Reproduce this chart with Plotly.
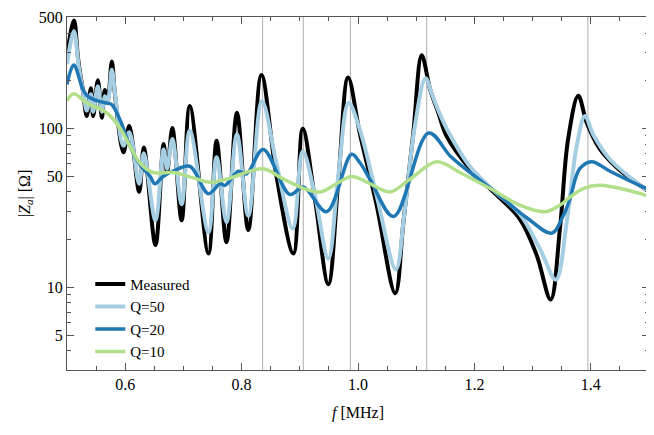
import numpy as np
import plotly.graph_objects as go

# ---- data ----
meas_f = [0.500, 0.512, 0.519, 0.5275, 0.534, 0.541, 0.545, 0.553, 0.560, 0.565, 0.570, 0.577, 0.5825,
          0.597, 0.607, 0.624, 0.632, 0.652, 0.666, 0.672, 0.681, 0.697, 0.711, 0.743, 0.757, 0.774,
          0.792, 0.8115, 0.834, 0.860, 0.889, 0.905, 0.926, 0.949, 0.966, 0.983, 1.003, 1.032, 1.064,
          1.078, 1.095, 1.1095, 1.124, 1.138, 1.152, 1.192, 1.2325, 1.278, 1.307, 1.331, 1.347, 1.361,
          1.3785, 1.393, 1.416, 1.4445, 1.496, 1.5]
meas_z = [290, 480, 277, 172, 120, 180, 120, 202, 117, 175, 150, 265, 163,
          71, 104, 40, 76, 18.5, 80, 53, 101, 26.5, 139, 16.4, 84, 19.3,
          126, 23, 218, 50, 16.4, 100, 36, 10.5, 46, 210, 94, 33, 9.2,
          25.8, 94, 290, 176, 126, 90, 56, 40, 27, 16, 8.4, 23.5, 86,
          161, 109, 74, 57, 41, 40]

q50_f = [0.500, 0.512, 0.520, 0.529, 0.534, 0.541, 0.545, 0.553, 0.560, 0.565, 0.570, 0.577, 0.583,
         0.597, 0.607, 0.624, 0.632, 0.652, 0.666, 0.672, 0.681, 0.697, 0.711, 0.743, 0.757, 0.774,
         0.792, 0.8115, 0.835, 0.860, 0.888, 0.905, 0.926, 0.949, 0.966, 0.984, 1.003, 1.032, 1.065,
         1.080, 1.097, 1.116, 1.127, 1.140, 1.155, 1.192, 1.2325, 1.278, 1.3127, 1.340, 1.3586, 1.3758,
         1.390, 1.404, 1.433, 1.496, 1.5]
q50_z = [255, 410, 250, 160, 130, 165, 128, 185, 128, 160, 150, 235, 160,
         78, 95, 45, 70, 26.5, 74, 56, 86, 33.5, 97, 22.3, 66, 25.8,
         92, 28.3, 149, 60, 23.5, 72, 38, 15.2, 50, 145, 99, 38, 13,
         30, 100, 208, 165, 125, 96, 58, 41, 29, 17.5, 11.2, 25.8, 78,
         120, 92, 64, 41, 40]

q20_f = [0.500, 0.5115, 0.527, 0.534, 0.551, 0.568, 0.5765, 0.591, 0.608, 0.626, 0.643, 0.651, 0.665,
         0.682, 0.711, 0.743, 0.763, 0.7715, 0.7945, 0.8086, 0.837, 0.883, 0.906, 0.946, 0.989, 1.0034,
         1.0206, 1.0613, 1.1214, 1.1589, 1.1924, 1.232, 1.290, 1.333, 1.353, 1.364, 1.381, 1.4015,
         1.433, 1.496, 1.5]
q20_z = [190, 252, 178, 162, 150, 145, 142, 114, 78, 59, 50, 45, 50,
         54, 58, 39, 45, 44, 54, 52, 74, 38.5, 43, 30, 69, 61,
         48, 28, 94, 67, 53, 41, 27.5, 22, 28.5, 36, 56, 62,
         54, 42, 41.5]

q10_f = [0.500, 0.5115, 0.534, 0.568, 0.591, 0.608, 0.625, 0.648, 0.683, 0.717, 0.746, 0.774, 0.837,
         0.868, 0.907, 0.935, 0.963, 0.989, 1.021, 1.055, 1.089, 1.135, 1.175, 1.2325, 1.278, 1.321,
         1.347, 1.364, 1.387, 1.416, 1.496, 1.5]
q10_z = [150, 166, 145, 126, 101, 78, 61, 53, 53, 49, 46, 48, 56,
         49, 42, 40, 45, 50, 45, 40, 48, 62, 53, 41, 33, 30,
         33, 37, 42, 44, 38, 37.5]

marker_freqs = [0.836, 0.906, 0.987, 1.118, 1.395]

y_tickvals = [5, 10, 50, 100, 500]
y_ticktext = ["5", "10", "50", "100", "500"]
y_minor = [4, 6, 7, 8, 9, 20, 30, 40, 60, 70, 80, 90, 200, 300, 400]

series = [
    ("Measured", meas_f, meas_z, "#000000", 4.0),
    ("Q=50", q50_f, q50_z, "#a6cee3", 4.0),
    ("Q=20", q20_f, q20_z, "#1f78b4", 3.5),
    ("Q=10", q10_f, q10_z, "#b2df8a", 3.5),
]

fig = go.Figure()
for name, fx, fz, col, w in series:
    fig.add_trace(go.Scatter(x=fx, y=fz, mode="lines", name=name,
                             line=dict(color=col, width=w, shape="spline", smoothing=1.0)))

for fv in marker_freqs:
    fig.add_vline(x=fv, line=dict(color="#bbbbbb", width=1.2), layer="below")

font = "Liberation Serif, 'Times New Roman', Times, 'DejaVu Serif', serif"
fig.update_layout(
    width=654, height=435,
    margin=dict(l=59, r=13, t=9, b=73, autoexpand=False),
    paper_bgcolor="white", plot_bgcolor="white",
    font=dict(family=font, size=16, color="black"),
    showlegend=True,
    legend=dict(x=0.04, y=0.29, xanchor="left", yanchor="top",
                bgcolor="rgba(0,0,0,0)", font=dict(family=font, size=15), tracegroupgap=0),
)
fig.update_xaxes(
    range=[0.5, 1.5], tick0=0, dtick=0.2, tickformat=".1f",
    ticks="inside", ticklen=7, tickcolor="#555",
    minor=dict(dtick=0.05, ticks="inside", ticklen=4, tickcolor="#555"),
    showline=True, linecolor="#555", linewidth=1, mirror="ticks",
    showgrid=False, zeroline=False, automargin=False,
    tickfont=dict(family=font, size=16),
    title=dict(text="<i>f</i> [MHz]", standoff=14, font=dict(family=font, size=16)),
)
fig.update_yaxes(
    type="log", range=[0.481, 2.703],
    tickvals=y_tickvals, ticktext=y_ticktext, ticklabeloverflow="allow",
    ticks="inside", ticklen=7, tickcolor="#555",
    minor=dict(tickvals=y_minor, ticks="inside", ticklen=4, tickcolor="#555"),
    showline=True, linecolor="#555", linewidth=1, mirror="ticks",
    showgrid=False, zeroline=False, automargin=False,
    tickfont=dict(family=font, size=16),
    title=dict(text="|<i>Z<sub>a</sub></i>| [Ω]", standoff=4, font=dict(family=font, size=16)),
)

fig.write_html("out.html")
